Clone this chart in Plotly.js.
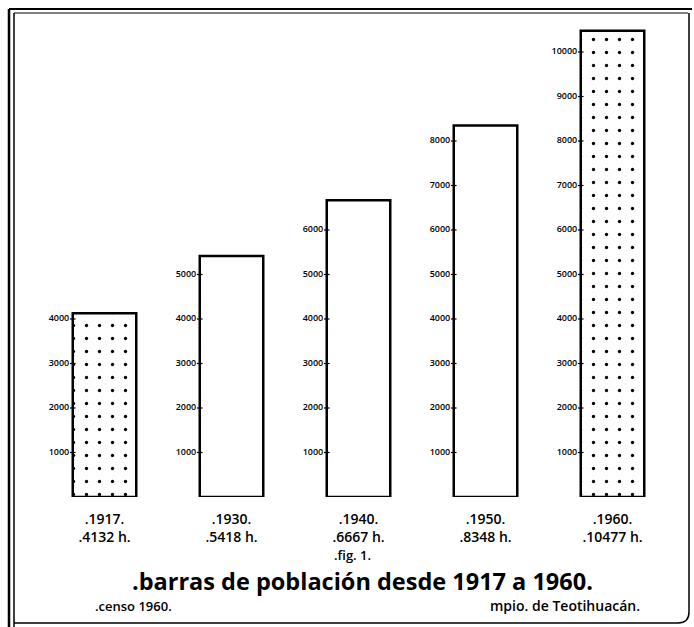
<!DOCTYPE html>
<html><head><meta charset="utf-8">
<script src="https://cdn.plot.ly/plotly-3.0.1.min.js"></script>
<style>html,body{margin:0;padding:0;background:#fff}</style>
</head><body><div id="chart" style="width:694px;height:627px"></div>
<script>
// ---- data ----
const years = ['1917', '1930', '1940', '1950', '1960'];
const population = [4132, 5418, 6667, 8348, 10477];
const popLabels = ['4132', '5418', '6667', '8348', '10477'];
const stippled = [true, false, false, false, true];
const scaleTicks = [1000, 2000, 3000, 4000, 5000, 6000, 7000, 8000, 9000, 10000];
const figLabel = '.fig. 1.';
const titleText = '.barras de población desde 1917 a 1960.';
const sourceText = '.censo 1960.';
const placeText = 'mpio. de Teotihuacán.';

// ---- layout geometry ----
const W = 694, H = 627;
const M = {l: 41, r: 18, t: 20, b: 130};
const PW = W - M.l - M.r, PH = H - M.t - M.b;
const px = x => (x - M.l) / PW;
const py = y => (M.t + PH - y) / PH;
const FONT = '"Open Sans", "DejaVu Sans", sans-serif';
const BAR_W = 0.5;

const xIdx = years.map((_, i) => i);

const traces = [{
  type: 'bar',
  x: xIdx,
  y: population,
  width: BAR_W,
  marker: {
    color: 'white',
    line: {color: 'black', width: 2.5},
    pattern: {
      shape: stippled.map(s => s ? '.' : ''),
      fgcolor: 'black',
      bgcolor: 'white',
      size: 13,
      solidity: 0.05
    }
  },
  hoverinfo: 'skip'
}];

// per-bar hand-drawn scales
population.forEach((v, i) => {
  const ticks = scaleTicks.filter(t => t <= v);
  traces.push({
    type: 'scatter',
    mode: 'markers+text',
    x: ticks.map(() => i - BAR_W / 2),
    y: ticks,
    text: ticks.map(String),
    textposition: 'middle left',
    textfont: {family: FONT, size: 9, color: 'black', weight: 600},
    marker: {symbol: 'line-ew', size: 4, line: {color: 'black', width: 1.2}},
    hoverinfo: 'skip',
    cliponaxis: false
  });
});

const shapes = [
  {type: 'line', xref: 'paper', yref: 'paper', x0: px(9), x1: px(9), y0: py(9), y1: py(627), line: {color: 'black', width: 2.5}},
  {type: 'line', xref: 'paper', yref: 'paper', x0: px(14), x1: px(14), y0: py(13), y1: py(627), line: {color: 'black', width: 1.5}},
  {type: 'line', xref: 'paper', yref: 'paper', x0: px(9), x1: px(692), y0: py(9), y1: py(9), line: {color: 'black', width: 2}},
  {type: 'line', xref: 'paper', yref: 'paper', x0: px(14), x1: px(688), y0: py(13), y1: py(13), line: {color: 'black', width: 1}},
  {type: 'line', xref: 'paper', yref: 'paper', x0: px(689), x1: px(689), y0: py(13), y1: py(612), line: {color: 'black', width: 1.5}},
  {type: 'path', xref: 'paper', yref: 'paper',
   path: `M ${px(689)} ${py(612)} Q ${px(689)} ${py(623)} ${px(678)} ${py(623)} L ${px(14)} ${py(623)}`,
   line: {color: 'black', width: 1.5}}
];

const annotations = [
  {text: figLabel, x: px(352), y: py(555), xref: 'paper', yref: 'paper', showarrow: false,
   font: {family: FONT, size: 13, color: 'black', weight: 600}, xanchor: 'center', yanchor: 'middle', borderpad: 0},
  {text: '<b>' + titleText + '</b>', x: px(362), y: py(581), xref: 'paper', yref: 'paper', showarrow: false,
   font: {family: FONT, size: 23.5, color: 'black'}, xanchor: 'center', yanchor: 'middle', borderpad: 0},
  {text: sourceText, x: px(94), y: py(606), xref: 'paper', yref: 'paper', showarrow: false,
   font: {family: FONT, size: 13, color: 'black', weight: 600}, xanchor: 'left', yanchor: 'middle', borderpad: 0},
  {text: placeText, x: px(641), y: py(606), xref: 'paper', yref: 'paper', showarrow: false,
   font: {family: FONT, size: 14, color: 'black', weight: 600}, xanchor: 'right', yanchor: 'middle', borderpad: 0}
];

const layout = {
  width: W, height: H,
  margin: M,
  paper_bgcolor: 'white', plot_bgcolor: 'white',
  showlegend: false,
  xaxis: {
    range: [-0.5, 4.5], tickmode: 'array', tickvals: xIdx,
    ticktext: years.map((y, i) => '.' + y + '.<br>.' + popLabels[i] + ' h.'),
    showline: false, showgrid: false, zeroline: false, ticks: '',
    tickfont: {family: FONT, size: 14, color: 'black', weight: 600},
    ticklabelstandoff: 12, fixedrange: true
  },
  yaxis: {range: [0, PH / 0.0445], visible: false, fixedrange: true},
  shapes: shapes,
  annotations: annotations
};

Plotly.newPlot('chart', traces, layout, {displayModeBar: false, staticPlot: true});
</script></body></html>
